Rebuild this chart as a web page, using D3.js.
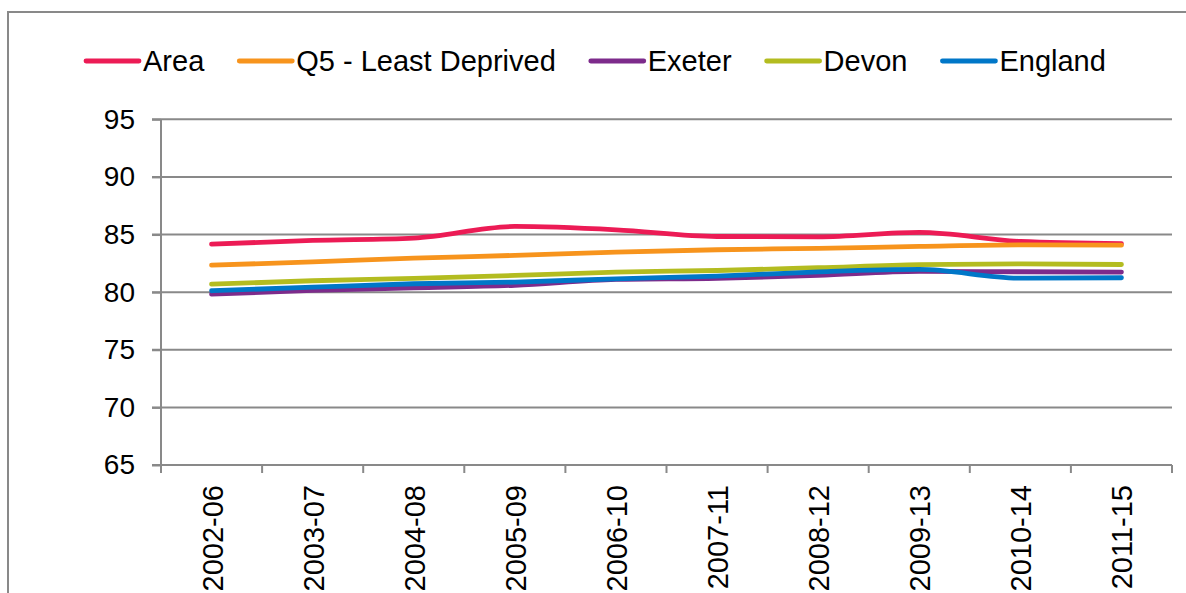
<!DOCTYPE html>
<html>
<head>
<meta charset="utf-8">
<script src="https://cdn.jsdelivr.net/npm/d3@7"></script>
<style>
  html, body { margin: 0; padding: 0; background: #fff; }
  svg { display: block; font-family: "Liberation Sans", Arial, sans-serif; }
</style>
</head>
<body>
<svg id="chart" width="1186" height="593"></svg>
<script>
// Life expectancy, 5-year rolling periods
const categories = ["2002-06", "2003-07", "2004-08", "2005-09", "2006-10",
                    "2007-11", "2008-12", "2009-13", "2010-14", "2011-15"];
const area    = [84.17, 84.49, 84.69, 85.70, 85.41, 84.83, 84.80, 85.18, 84.40, 84.20];
const q5      = [82.34, 82.62, 82.95, 83.19, 83.47, 83.68, 83.80, 83.97, 84.11, 84.08];
const exeter  = [79.83, 80.15, 80.38, 80.60, 81.10, 81.20, 81.45, 81.80, 81.77, 81.74];
const devon   = [80.69, 80.99, 81.20, 81.45, 81.74, 81.88, 82.12, 82.38, 82.46, 82.40];
const england = [80.12, 80.43, 80.73, 80.87, 81.16, 81.39, 81.76, 81.97, 81.22, 81.25];
const yTicks  = [65, 70, 75, 80, 85, 90, 95];

const seriesNames  = ["Area", "Q5 - Least Deprived", "Exeter", "Devon", "England"];
const seriesValues = [area, q5, exeter, devon, england];
const seriesColors = ["#EC1B55", "#F7941D", "#7D2B8B", "#B3BC20", "#0077C8"];

const series = seriesNames.map((name, i) => ({ name, values: seriesValues[i], color: seriesColors[i] }));

const svg = d3.select("#chart");
const gridColor = "#898989";
const labelSize = 29;
const tickSize = 28;

// Outer frame
svg.append("path")
  .attr("d", "M8,600 L8,12 L1190,12")
  .attr("fill", "none")
  .attr("stroke", gridColor)
  .attr("stroke-width", 2);

const plot = { left: 161, right: 1172, top: 119.3, bottom: 465 };

const x = d3.scaleBand().domain(categories).range([plot.left, plot.right]).paddingInner(0).paddingOuter(0);
const y = d3.scaleLinear().domain([65, 95]).range([plot.bottom, plot.top]);

// Horizontal gridlines
svg.append("g")
  .selectAll("line")
  .data(yTicks)
  .join("line")
  .attr("x1", plot.left - 9)
  .attr("x2", plot.right)
  .attr("y1", d => y(d))
  .attr("y2", d => y(d))
  .attr("stroke", gridColor)
  .attr("stroke-width", 2);

// Y axis
const yAxis = svg.append("g")
  .attr("transform", `translate(${plot.left},0)`)
  .call(d3.axisLeft(y).tickValues(yTicks).tickSize(9).tickPadding(17).tickFormat(d3.format("d")));
yAxis.select(".domain").attr("stroke", gridColor).attr("stroke-width", 2)
  .attr("d", `M0,${plot.top}V${plot.bottom + 8}`);
yAxis.selectAll(".tick line").attr("stroke", gridColor).attr("stroke-width", 2);
yAxis.selectAll(".tick text")
  .attr("fill", "#000")
  .style("font-size", tickSize + "px")
  .style("font-family", "'Liberation Sans', Arial, sans-serif");

// X axis: ticks on band boundaries
const boundaries = categories.map(c => x(c)).concat([x.range()[1]]);
const xg = svg.append("g");
xg.append("line")
  .attr("x1", plot.left).attr("x2", plot.right)
  .attr("y1", plot.bottom).attr("y2", plot.bottom)
  .attr("stroke", gridColor).attr("stroke-width", 2);
xg.selectAll("line.tick")
  .data(boundaries.slice(1))
  .join("line")
  .attr("class", "tick")
  .attr("x1", d => d).attr("x2", d => d)
  .attr("y1", plot.bottom).attr("y2", plot.bottom + 8)
  .attr("stroke", gridColor).attr("stroke-width", 2);
xg.selectAll("text")
  .data(categories)
  .join("text")
  .attr("transform", d => `translate(${x(d) + x.bandwidth() / 2 + 11},${plot.bottom + 20}) rotate(-90)`)
  .attr("text-anchor", "end")
  .attr("fill", "#000")
  .style("font-size", labelSize + "px")
  .text(d => d);

// Series lines
const line = d3.line()
  .x((d, i) => x(categories[i]) + x.bandwidth() / 2)
  .y(d => y(d))
  .curve(d3.curveMonotoneX);

svg.append("g")
  .selectAll("path")
  .data(series)
  .join("path")
  .attr("d", d => line(d.values))
  .attr("fill", "none")
  .attr("stroke", d => d.color)
  .attr("stroke-width", 4.8)
  .attr("stroke-linecap", "round")
  .attr("stroke-linejoin", "round");

// Legend
const legend = svg.append("g").attr("transform", "translate(86,61)");
let cursor = 0;
series.forEach(s => {
  const g = legend.append("g").attr("transform", `translate(${cursor},0)`);
  g.append("line")
    .attr("x1", 0).attr("x2", 53)
    .attr("y1", 0).attr("y2", 0)
    .attr("stroke", s.color)
    .attr("stroke-width", 4.8)
    .attr("stroke-linecap", "round");
  const t = g.append("text")
    .attr("x", 57)
    .attr("y", 0)
    .attr("dy", "0.35em")
    .attr("fill", "#000")
    .style("font-size", labelSize + "px")
    .text(s.name);
  cursor += 57 + t.node().getComputedTextLength() + 35;
});
</script>
</body>
</html>
